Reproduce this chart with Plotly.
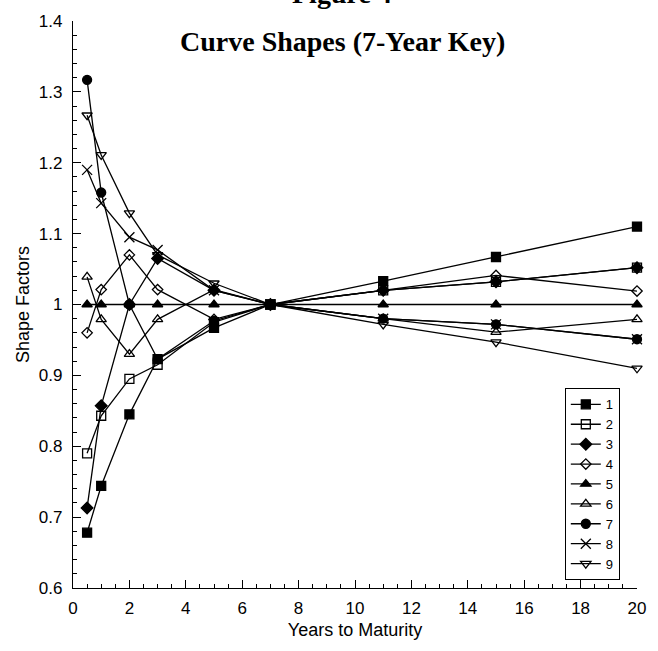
import plotly.graph_objects as go

years = [0.5, 1, 2, 3, 5, 7, 11, 15, 20]
names = ["1", "2", "3", "4", "5", "6", "7", "8", "9"]
s1 = [0.678, 0.744, 0.845, 0.923, 0.967, 1.0, 1.033, 1.067, 1.110]
s2 = [0.790, 0.843, 0.895, 0.915, 0.975, 1.0, 1.020, 1.032, 1.052]
s3 = [0.713, 0.857, 1.000, 1.065, 1.020, 1.0, 1.020, 1.032, 1.052]
s4 = [0.960, 1.021, 1.070, 1.021, 0.979, 1.0, 1.020, 1.041, 1.019]
s5 = [1.000, 1.000, 1.000, 1.000, 1.000, 1.0, 1.000, 1.000, 1.000]
s6 = [1.039, 0.979, 0.930, 0.979, 1.021, 1.0, 0.980, 0.961, 0.979]
s7 = [1.317, 1.158, 1.000, 0.923, 0.977, 1.0, 0.980, 0.972, 0.951]
s8 = [1.190, 1.143, 1.095, 1.077, 1.020, 1.0, 0.980, 0.972, 0.951]
s9 = [1.267, 1.211, 1.129, 1.070, 1.030, 1.0, 0.972, 0.947, 0.910]
series = [s1, s2, s3, s4, s5, s6, s7, s8, s9]
symbols = ["square", "square-open", "diamond", "diamond-open", "triangle-up",
           "triangle-up-open", "circle", "x-thin-open", "triangle-down-open"]
sizes = [9, 9, 9, 8, 9, 9, 9, 10, 9]

fig = go.Figure()
for nm, ys, sym, sz in zip(names, series, symbols, sizes):
    fig.add_trace(go.Scatter(
        x=years, y=ys, name=nm, mode="lines+markers",
        line=dict(color="black", width=1.3),
        marker=dict(symbol=sym, size=sz, color="black",
                    line=dict(color="black", width=1.3)),
        cliponaxis=False,
    ))

sans = "Liberation Sans, Arial, sans-serif"
serif = "Liberation Serif, Times New Roman, serif"
tickfont = dict(family=sans, size=17, color="black")
fig.update_layout(
    width=658, height=651,
    margin=dict(l=73, r=15, t=17, b=63),
    paper_bgcolor="white", plot_bgcolor="white",
    showlegend=True,
    legend=dict(x=0.872, y=0.352, xanchor="left", yanchor="top",
                bordercolor="black", borderwidth=1, bgcolor="white",
                font=dict(family=sans, size=13, color="black"),
                tracegroupgap=0, itemwidth=30),
    xaxis=dict(range=[0, 20], dtick=2, tick0=0, showgrid=False, zeroline=False,
               showline=True, linecolor="black", linewidth=1.2, mirror=False,
               ticks="inside", ticklen=8, tickcolor="black", tickwidth=1,
               minor=dict(dtick=0.5, ticks="inside", ticklen=4, tickcolor="black", showgrid=False),
               tickfont=tickfont, ticklabelstandoff=4,
               title=dict(text="Years to Maturity", font=dict(family=sans, size=18, color="black"), standoff=6)),
    yaxis=dict(range=[0.6, 1.4], dtick=0.1, tick0=0.6, showgrid=False, zeroline=False,
               showline=True, linecolor="black", linewidth=1.2, mirror=False,
               ticks="inside", ticklen=8, tickcolor="black", tickwidth=1,
               minor=dict(dtick=0.02, ticks="inside", ticklen=4, tickcolor="black", showgrid=False),
               tickfont=tickfont, ticklabelstandoff=6,
               title=dict(text="Shape Factors", font=dict(family=sans, size=18, color="black"), standoff=4)),
    annotations=[
        dict(text="<b>Figure 4</b>", xref="paper", yref="paper", x=0.477, y=1.048,
             xanchor="center", yanchor="middle", showarrow=False,
             font=dict(family=serif, size=28, color="black")),
        dict(text="<b>Curve Shapes (7-Year Key)</b>", xref="paper", yref="paper", x=0.477, y=0.963,
             xanchor="center", yanchor="middle", showarrow=False,
             font=dict(family=serif, size=28, color="black")),
    ],
)

fig.write_html("out.html")
